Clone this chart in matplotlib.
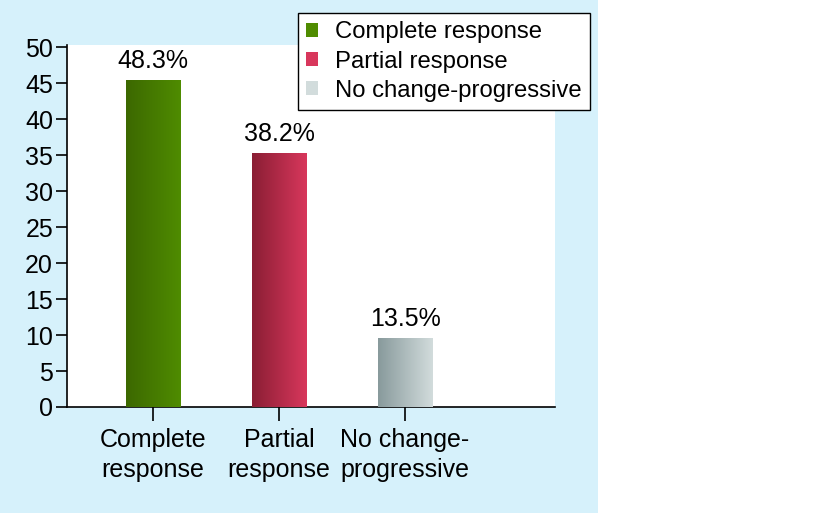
import matplotlib
matplotlib.use("Agg")
import matplotlib.pyplot as plt
import numpy as np
from matplotlib.patches import Rectangle
from matplotlib.colors import LinearSegmentedColormap

categories = ["Complete\nresponse", "Partial\nresponse", "No change-\nprogressive"]
legend_labels = ["Complete response", "Partial response", "No change-progressive"]
values = [45.5, 35.3, 9.6]
bar_labels = ["48.3%", "38.2%", "13.5%"]
yticks = [0, 5, 10, 15, 20, 25, 30, 35, 40, 45, 50]
grad_colors = [("#3c6800", "#4f8c00"), ("#8a1e34", "#d8375c"), ("#889a9c", "#d2dcdc")]

plt.rcParams['font.family'] = ['Liberation Sans', 'DejaVu Sans']
FS = 18

fig = plt.figure(figsize=(8.15, 5.13), dpi=100)
fig.patch.set_facecolor("white")
fig.patches.append(Rectangle((0, 0), 598/815, 1, transform=fig.transFigure,
                             facecolor="#d6f1fb", edgecolor="none", zorder=-5))

ax = fig.add_axes([67/815, (513-407)/513, (555-67)/815, (407-45)/513])
ax.set_zorder(1)
ax.set_facecolor("white")
x = np.arange(len(values))
bars = ax.bar(x, values, width=0.43, color=[c[1] for c in grad_colors], zorder=2)
for b, (c0, c1) in zip(bars, grad_colors):
    cmap = LinearSegmentedColormap.from_list("g", [c0, c1])
    x0, y0 = b.get_x(), b.get_y()
    w, h = b.get_width(), b.get_height()
    im = ax.imshow(np.linspace(0, 1, 256).reshape(1, -1), cmap=cmap, aspect="auto",
                   extent=(x0, x0 + w, y0, y0 + h), zorder=3)
    im.set_clip_path(b)
for xi, v, lab in zip(x, values, bar_labels):
    ax.text(xi, v + 0.9, lab, ha="center", va="bottom", fontsize=FS)

ax.set_xlim(-0.683, 3.19)
ax.set_ylim(0, 50.3)
ax.set_yticks(yticks)
ax.set_xticks(x)
ax.set_xticklabels(categories, fontsize=FS, linespacing=1.3)
ax.tick_params(axis="y", labelsize=FS, length=8, width=1.2, pad=2)
ax.tick_params(axis="x", length=10, width=1.2, pad=5)
for s in ["top", "right"]:
    ax.spines[s].set_visible(False)
for s in ["left", "bottom"]:
    ax.spines[s].set_linewidth(1.2)

handles = [Rectangle((0, 0), 1, 1, facecolor=c[1]) for c in grad_colors]
leg = fig.legend(handles, legend_labels, loc="upper left",
                 bbox_to_anchor=(298/815, 1 - 13/513), fontsize=17.2,
                 frameon=True, fancybox=False, edgecolor="black", framealpha=1,
                 handlelength=0.5, handleheight=0.5, handletextpad=0.7,
                 borderpad=0.35, labelspacing=0.3, borderaxespad=0)
leg.get_frame().set_linewidth(1.0)
leg.set_zorder(5)

fig.savefig("out.png", dpi=100)
